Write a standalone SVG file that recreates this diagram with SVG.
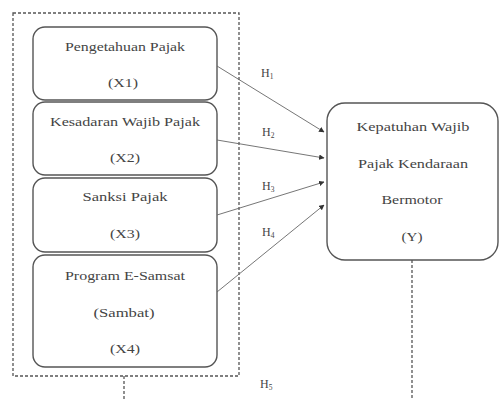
<svg xmlns="http://www.w3.org/2000/svg" width="500" height="400" viewBox="0 0 500 400">
<style>
.box{fill:#fff;stroke:#555;stroke-width:1.4}
.t{font-family:"Liberation Serif","Times New Roman",serif;font-size:12.5px;fill:#444;text-anchor:middle}
.h{font-family:"Liberation Serif","Times New Roman",serif;font-size:12px;fill:#444}
.sub{font-size:7.5px}
.dash{fill:none;stroke:#555;stroke-width:1.3;stroke-dasharray:3 2}
.arr{stroke:#666;stroke-width:0.9;fill:none;marker-end:url(#ah)}
</style>
<defs>
<marker id="ah" viewBox="0 0 10 10" refX="9" refY="5" markerWidth="5.5" markerHeight="5.5" markerUnits="userSpaceOnUse" orient="auto">
<path d="M0,0 L10,5 L0,10 z" fill="#333"/>
</marker>
</defs>
<rect width="500" height="400" fill="#fff"/>
<g id="group-x">
<rect class="dash" x="13" y="13" width="226" height="363"/>
</g>
<g id="x1">
<rect class="box" x="33" y="27" width="184" height="73" rx="12"/>
<text class="t" x="125" y="51" textLength="120" lengthAdjust="spacingAndGlyphs">Pengetahuan Pajak</text>
<text class="t" x="123" y="87" textLength="30" lengthAdjust="spacingAndGlyphs">(X1)</text>
</g>
<g id="x2">
<rect class="box" x="33" y="102" width="184" height="73" rx="12"/>
<text class="t" x="125" y="126" textLength="150" lengthAdjust="spacingAndGlyphs">Kesadaran Wajib Pajak</text>
<text class="t" x="125" y="162" textLength="30" lengthAdjust="spacingAndGlyphs">(X2)</text>
</g>
<g id="x3">
<rect class="box" x="33" y="178" width="184" height="74" rx="12"/>
<text class="t" x="125" y="201" textLength="85" lengthAdjust="spacingAndGlyphs">Sanksi Pajak</text>
<text class="t" x="125" y="238" textLength="30" lengthAdjust="spacingAndGlyphs">(X3)</text>
</g>
<g id="x4">
<rect class="box" x="33" y="255" width="184" height="112" rx="12"/>
<text class="t" x="125" y="280" textLength="120" lengthAdjust="spacingAndGlyphs">Program E-Samsat</text>
<text class="t" x="124" y="317" textLength="61" lengthAdjust="spacingAndGlyphs">(Sambat)</text>
<text class="t" x="125" y="353" textLength="30" lengthAdjust="spacingAndGlyphs">(X4)</text>
</g>
<g id="y">
<rect class="box" x="327" y="103" width="171" height="157" rx="18"/>
<text class="t" x="413" y="131" textLength="113" lengthAdjust="spacingAndGlyphs">Kepatuhan Wajib</text>
<text class="t" x="413" y="168" textLength="110" lengthAdjust="spacingAndGlyphs">Pajak Kendaraan</text>
<text class="t" x="412" y="204" textLength="61" lengthAdjust="spacingAndGlyphs">Bermotor</text>
<text class="t" x="412" y="241" textLength="21" lengthAdjust="spacingAndGlyphs">(Y)</text>
</g>
<g id="connectors">
<line class="arr" x1="217" y1="66" x2="324" y2="132"/>
<line class="arr" x1="217" y1="140" x2="324" y2="158"/>
<line class="arr" x1="217" y1="215" x2="324" y2="182"/>
<line class="arr" x1="217" y1="292" x2="324" y2="205"/>
<line class="dash" x1="124" y1="376" x2="124" y2="400"/>
<line class="dash" x1="412" y1="260" x2="412" y2="400"/>
<text class="h" x="261" y="77">H<tspan class="sub" dy="2">1</tspan></text>
<text class="h" x="262" y="136">H<tspan class="sub" dy="2">2</tspan></text>
<text class="h" x="262" y="190">H<tspan class="sub" dy="2">3</tspan></text>
<text class="h" x="262" y="236">H<tspan class="sub" dy="2">4</tspan></text>
<text class="h" x="260" y="388">H<tspan class="sub" dy="2">5</tspan></text>
</g>
</svg>
